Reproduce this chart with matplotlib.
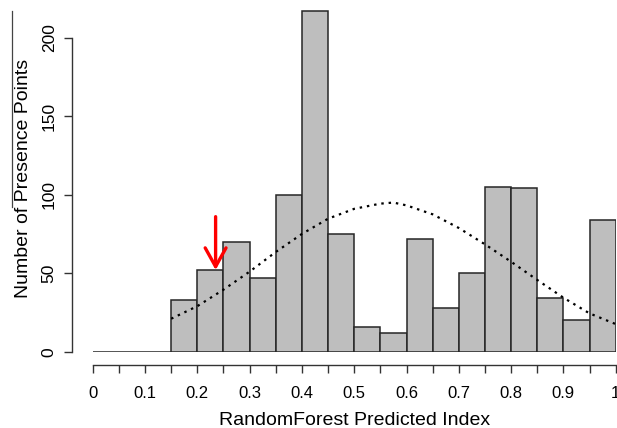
import matplotlib
matplotlib.use("Agg")
import matplotlib.pyplot as plt
from matplotlib.lines import Line2D

plt.rcParams['font.family'] = ['Liberation Sans', 'DejaVu Sans']

# Histogram bins (left edges) and counts
bin_edges = [0.00, 0.05, 0.10, 0.15, 0.20, 0.25, 0.30, 0.35, 0.40, 0.45, 0.50,
             0.55, 0.60, 0.65, 0.70, 0.75, 0.80, 0.85, 0.90, 0.95, 1.00]
counts = [0, 0, 0, 33, 52, 70, 47, 100, 217, 75, 16, 12, 72, 28, 50, 105, 104, 34, 20, 84]

# Fitted curve
curve_x = [0.15, 0.20, 0.25, 0.30, 0.35, 0.40, 0.45, 0.50, 0.55, 0.575, 0.60,
           0.65, 0.70, 0.75, 0.80, 0.85, 0.90, 0.95, 1.00]
curve_y = [21, 29, 39.5, 51, 63.5, 75, 84.7, 91, 94.3, 95, 93.2,
           87.5, 78.8, 68.4, 57.3, 45.7, 34.4, 24.4, 17.6]

arrow_x = 0.235
arrow_y_top = 86
arrow_y_tip = 52

xticks = [0, 0.1, 0.2, 0.3, 0.4, 0.5, 0.6, 0.7, 0.8, 0.9, 1]
xticklabels = ['0', '0.1', '0.2', '0.3', '0.4', '0.5', '0.6', '0.7', '0.8', '0.9', '1']
yticks = [0, 50, 100, 150, 200]

W, H = 617, 428
fig = plt.figure(figsize=(W / 100, H / 100), dpi=100)
x0_px, x1_px = 92.7, 615.7
y0_px = 351.7
ppu = 1.57
ymax = 221
ax = fig.add_axes([x0_px / W, (H - y0_px) / H, (x1_px - x0_px) / W, ymax * ppu / H])

lefts = bin_edges[:-1]
widths = [bin_edges[i + 1] - bin_edges[i] for i in range(len(lefts))]
ax.bar(lefts, counts, width=widths, align='edge', color='#BEBEBE',
       edgecolor='#262626', linewidth=1.1, zorder=2)
ax.plot(curve_x, curve_y, color='black', linestyle=(0, (1.1, 2.2)), linewidth=1.6, zorder=3)

# red arrow
ax.annotate('', xy=(arrow_x, arrow_y_tip), xytext=(arrow_x, arrow_y_top),
            arrowprops=dict(arrowstyle='->,head_length=1.35,head_width=0.75',
                            color='red', lw=2.4, shrinkA=0, shrinkB=0), zorder=5)

ax.set_xlim(0, 1)
ax.set_ylim(0, ymax)
for s in ['top', 'right']:
    ax.spines[s].set_visible(False)
ax.spines['left'].set_position(('outward', 20.7 * 0.72))
ax.spines['bottom'].set_position(('outward', 13.3 * 0.72))
ax.spines['left'].set_bounds(0, 200)
ax.spines['bottom'].set_bounds(0, 1)
for s in ['left', 'bottom']:
    ax.spines[s].set_color('#333333')
    ax.spines[s].set_linewidth(1.0)

ax.set_xticks(xticks + [0.05, 0.15, 0.25, 0.35, 0.45, 0.55, 0.65, 0.75, 0.85, 0.95])
ax.set_xticklabels(xticklabels + [''] * 10)
ax.set_yticks(yticks)
ax.set_yticklabels([str(v) for v in yticks], rotation=90, va='center')
ax.tick_params(axis='x', length=6, width=1.0, color='#333333', labelsize=12, pad=9)
ax.tick_params(axis='y', length=6, width=1.0, color='#333333', labelsize=12.5, pad=5)

ax.set_xlabel('RandomForest Predicted Index', fontsize=14, labelpad=8)
ax.set_ylabel('Number of Presence Points', fontsize=14, labelpad=7)

# stray vertical line at left edge
fig.add_artist(Line2D([11.5 / W, 11.5 / W], [1 - 11 / H, 1 - 207 / H],
                      color='#444444', linewidth=0.9))

fig.savefig('out.png', dpi=100)
